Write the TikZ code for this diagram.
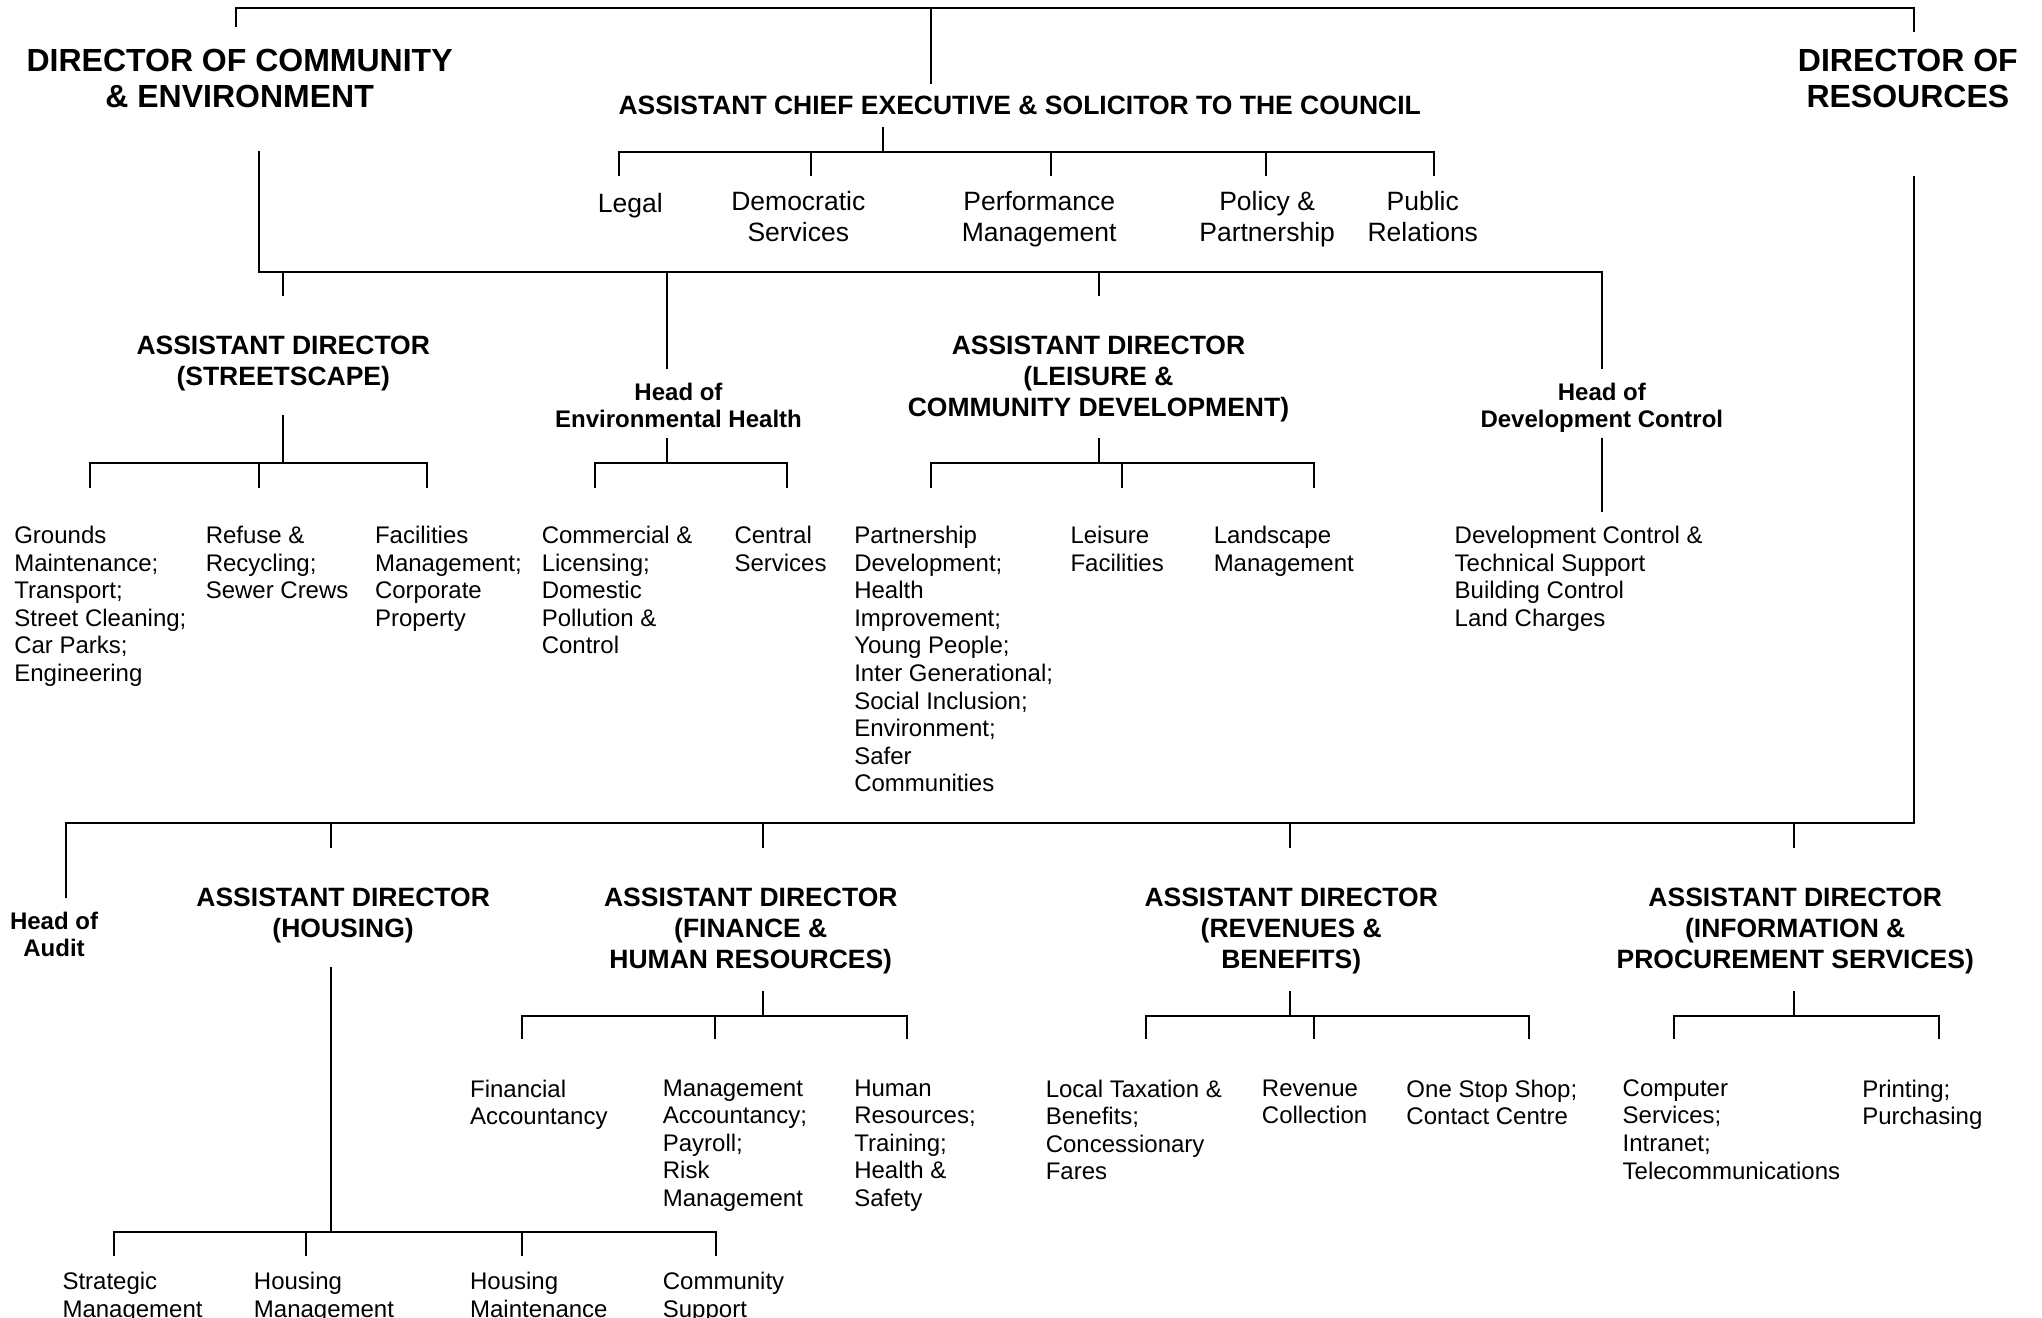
\documentclass[tikz,border=0pt]{standalone}
\usepackage{fontspec}
\setmainfont{Liberation Sans}
\begin{document}
\begin{tikzpicture}[x=1.3023pt,y=-1.3023pt,
  every node/.style={inner sep=0pt,outer sep=0pt},
  dir/.style={font=\bfseries\fontsize{32}{36.5}\selectfont,align=center,anchor=north,execute at begin node=\strut},
  hd/.style={font=\bfseries\fontsize{26.5}{31}\selectfont,align=center,anchor=north,execute at begin node=\strut},
  sub/.style={font=\fontsize{26.5}{31}\selectfont,align=center,anchor=north,execute at begin node=\strut},
  hof/.style={font=\bfseries\fontsize{24}{27.4}\selectfont,align=center,anchor=north,execute at begin node=\strut},
  leaf/.style={font=\fontsize{24}{27.6}\selectfont,align=left,anchor=north west,execute at begin node=\strut},
  ln/.style={line width=2pt,line join=miter}]
\clip (0,0) rectangle (1568,1012);
\fill[white] (0,0) rectangle (1568,1012);

% ---------- nodes ----------
\node[dir] (dce) at (184,37.4) {DIRECTOR OF COMMUNITY\\\& ENVIRONMENT};
\node[dir] (dres) at (1465,37.4) {DIRECTOR OF\\RESOURCES};
\node[hd] (ace) at (783,71.6) {ASSISTANT CHIEF EXECUTIVE \& SOLICITOR TO THE COUNCIL};
\node[sub] (legal) at (484,146.2) {Legal};
\node[sub] (dem) at (613,146.6) {Democratic\\Services};
\node[sub] (perf) at (798,146.6) {Performance\\Management};
\node[sub] (pol) at (973,146.6) {Policy \&\\Partnership};
\node[sub] (pr) at (1092.5,146.6) {Public\\Relations};

\node[hd] (ads) at (217.5,258) {ASSISTANT DIRECTOR\\(STREETSCAPE)};
\node[hof] (heh) at (521,294) {Head of\\Environmental Health};
\node[hd] (adl) at (843.5,258) {ASSISTANT DIRECTOR\\(LEISURE \&\\COMMUNITY DEVELOPMENT)};
\node[hof] (hdc) at (1230,294) {Head of\\Development Control};

\node[leaf] (gm) at (11,404) {Grounds\\Maintenance;\\Transport;\\Street Cleaning;\\Car Parks;\\Engineering};
\node[leaf] (rr) at (158,404) {Refuse \&\\Recycling;\\Sewer Crews};
\node[leaf] (fm) at (288,404) {Facilities\\Management;\\Corporate\\Property};
\node[leaf] (cl) at (416,404) {Commercial \&\\Licensing;\\Domestic\\Pollution \&\\Control};
\node[leaf] (cs) at (564,404) {Central\\Services};
\node[leaf] (pd) at (656,404) {Partnership\\Development;\\Health\\Improvement;\\Young People;\\Inter Generational;\\Social Inclusion;\\Environment;\\Safer\\Communities};
\node[leaf] (lf) at (822,404) {Leisure\\Facilities};
\node[leaf] (lm) at (932,404) {Landscape\\Management};
\node[leaf] (dct) at (1117,404) {Development Control \&\\Technical Support\\Building Control\\Land Charges};

\node[hof] (audit) at (41.5,700) {Head of\\Audit};
\node[hd] (adh) at (263.5,682.2) {ASSISTANT DIRECTOR\\(HOUSING)};
\node[hd] (adf) at (576.5,682.2) {ASSISTANT DIRECTOR\\(FINANCE \&\\HUMAN RESOURCES)};
\node[hd] (adr) at (991.5,682.2) {ASSISTANT DIRECTOR\\(REVENUES \&\\BENEFITS)};
\node[hd] (adi) at (1378.5,682.2) {ASSISTANT DIRECTOR\\(INFORMATION \&\\PROCUREMENT SERVICES)};

\node[leaf] (fa) at (361,829) {Financial\\Accountancy};
\node[leaf] (ma) at (509,829) {Management\\Accountancy;\\Payroll;\\Risk\\Management};
\node[leaf] (hr) at (656,829) {Human\\Resources;\\Training;\\Health \&\\Safety};
\node[leaf] (lt) at (803,829) {Local Taxation \&\\Benefits;\\Concessionary\\Fares};
\node[leaf] (rc) at (969,829) {Revenue\\Collection};
\node[leaf] (os) at (1080,829) {One Stop Shop;\\Contact Centre};
\node[leaf] (cps) at (1246,829) {Computer\\Services;\\Intranet;\\Telecommunications};
\node[leaf] (pp) at (1430,829) {Printing;\\Purchasing};

\node[leaf] (sm) at (48,977) {Strategic\\Management};
\node[leaf] (hm) at (195,977) {Housing\\Management};
\node[leaf] (hmt) at (361,977) {Housing\\Maintenance};
\node[leaf] (cms) at (509,977) {Community\\Support};

% ---------- connector coordinates ----------
\coordinate (t1) at (181,20.7);
\coordinate (t2) at (181,6);
\coordinate (t3) at (1470,6);
\coordinate (t4) at (1470,24.6);
\coordinate (tm) at (715,6);
\coordinate (tmb) at (715,64.5);

\coordinate (acea) at (678,97.5);
\coordinate (aceb) at (678,116.7);
\coordinate (aceL) at (475.3,116.7);
\coordinate (aceR) at (1101.5,116.7);

\coordinate (dcea) at (199,116);
\coordinate (dceb) at (199,208.9);
\coordinate (dceR) at (1230,208.9);

\coordinate (dresa) at (1470,135);
\coordinate (dresb) at (1470,632);
\coordinate (botL) at (50.7,632);

\coordinate (sta) at (217.3,318.7);
\coordinate (stb) at (217.3,355.8);
\coordinate (stL) at (69.4,355.8);
\coordinate (stR) at (327.7,355.8);

\coordinate (eha) at (512.1,336.6);
\coordinate (ehb) at (512.1,355.8);
\coordinate (ehL) at (456.6,355.8);
\coordinate (ehR) at (604,355.8);

\coordinate (lea) at (843.7,336.6);
\coordinate (leb) at (843.7,355.8);
\coordinate (leL) at (714.9,355.8);
\coordinate (leR) at (1009,355.8);

\coordinate (dca) at (1229.9,336.6);
\coordinate (dcb) at (1229.9,392.9);

\coordinate (hoa) at (253.8,742.3);
\coordinate (hob) at (253.8,945.8);
\coordinate (hoL) at (87.9,945.8);
\coordinate (hoR) at (549.6,945.8);

\coordinate (fia) at (585.5,761);
\coordinate (fib) at (585.5,780);
\coordinate (fiL) at (401.2,780);
\coordinate (fiR) at (696.4,780);

\coordinate (rea) at (990.6,761);
\coordinate (reb) at (990.6,780);
\coordinate (reL) at (879.7,780);
\coordinate (reR) at (1174.4,780);

\coordinate (ina) at (1377.8,761);
\coordinate (inb) at (1377.8,780);
\coordinate (inL) at (1285.5,780);
\coordinate (inR) at (1488.7,780);

% ---------- connectors ----------
\draw[ln] (t1) -- (t2) -- (t3) -- (t4);
\draw[ln] (tm) -- (tmb);

\draw[ln] (acea) -- (aceb);
\draw[ln] (aceL |- 0,135.1) -- (aceL) -- (aceR) -- (aceR |- 0,135.1);
\foreach \x in {622.7,807,972} \draw[ln] (\x,116.7) -- (\x,135.1);

\draw[ln] (dcea) -- (dceb) -- (dceR) -- (dceR |- 0,283);
\draw[ln] (217.3,208.9) -- (217.3,227.3);
\draw[ln] (512.2,208.9) -- (512.2,283);
\draw[ln] (843.9,208.9) -- (843.9,227.3);

\draw[ln] (sta) -- (stb);
\draw[ln] (stL |- 0,374.5) -- (stL) -- (stR) -- (stR |- 0,374.5);
\draw[ln] (198.9,355.8) -- (198.9,374.5);

\draw[ln] (eha) -- (ehb);
\draw[ln] (ehL |- 0,374.5) -- (ehL) -- (ehR) -- (ehR |- 0,374.5);

\draw[ln] (lea) -- (leb);
\draw[ln] (leL |- 0,374.5) -- (leL) -- (leR) -- (leR |- 0,374.5);
\draw[ln] (861.6,355.8) -- (861.6,374.5);

\draw[ln] (dca) -- (dcb);

\draw[ln] (dresa) -- (dresb) -- (botL) -- (botL |- 0,689.5);
\foreach \x in {253.8,585.5,990.6,1377.8} \draw[ln] (\x,632) -- (\x,651.2);

\draw[ln] (hoa) -- (hob);
\draw[ln] (hoL |- 0,964.5) -- (hoL) -- (hoR) -- (hoR |- 0,964.5);
\foreach \x in {235.3,401.2} \draw[ln] (\x,945.8) -- (\x,964.5);

\draw[ln] (fia) -- (fib);
\draw[ln] (fiL |- 0,798) -- (fiL) -- (fiR) -- (fiR |- 0,798);
\draw[ln] (549,780) -- (549,798);

\draw[ln] (rea) -- (reb);
\draw[ln] (reL |- 0,798) -- (reL) -- (reR) -- (reR |- 0,798);
\draw[ln] (1009,780) -- (1009,798);

\draw[ln] (ina) -- (inb);
\draw[ln] (inL |- 0,798) -- (inL) -- (inR) -- (inR |- 0,798);
\end{tikzpicture}
\end{document}
